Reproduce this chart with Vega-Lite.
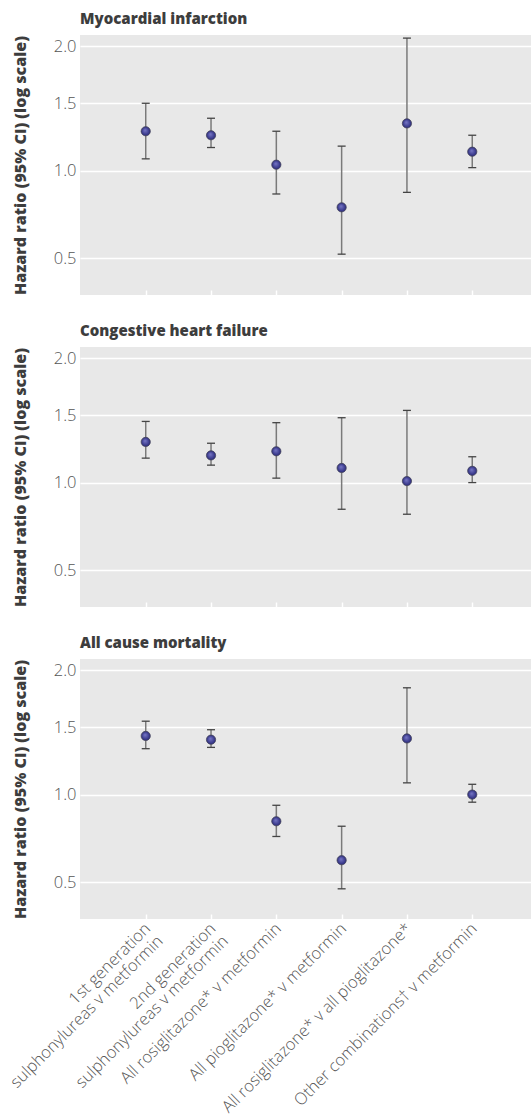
{
  "$schema": "https://vega.github.io/schema/vega-lite/v6.json",
  "padding": {"left": -6, "top": 12, "right": 0, "bottom": 0},
  "data": {
    "values": [
      {"outcome": "Myocardial infarction", "comparison": "1st generation|sulphonylureas v metformin", "hr": 1.28, "lo": 1.08, "hi": 1.50},
      {"outcome": "Myocardial infarction", "comparison": "2nd generation|sulphonylureas v metformin", "hr": 1.25, "lo": 1.16, "hi": 1.38},
      {"outcome": "Myocardial infarction", "comparison": "All rosiglitazone* v metformin", "hr": 1.04, "lo": 0.85, "hi": 1.28},
      {"outcome": "Myocardial infarction", "comparison": "All pioglitazone* v metformin", "hr": 0.77, "lo": 0.52, "hi": 1.17},
      {"outcome": "Myocardial infarction", "comparison": "All rosiglitazone* v all pioglitazone*", "hr": 1.34, "lo": 0.86, "hi": 2.08},
      {"outcome": "Myocardial infarction", "comparison": "Other combinations† v metformin", "hr": 1.13, "lo": 1.02, "hi": 1.25},
      {"outcome": "Congestive heart failure", "comparison": "1st generation|sulphonylureas v metformin", "hr": 1.29, "lo": 1.17, "hi": 1.45},
      {"outcome": "Congestive heart failure", "comparison": "2nd generation|sulphonylureas v metformin", "hr": 1.19, "lo": 1.12, "hi": 1.28},
      {"outcome": "Congestive heart failure", "comparison": "All rosiglitazone* v metformin", "hr": 1.22, "lo": 1.03, "hi": 1.44},
      {"outcome": "Congestive heart failure", "comparison": "All pioglitazone* v metformin", "hr": 1.10, "lo": 0.83, "hi": 1.48},
      {"outcome": "Congestive heart failure", "comparison": "All rosiglitazone* v all pioglitazone*", "hr": 1.01, "lo": 0.80, "hi": 1.54},
      {"outcome": "Congestive heart failure", "comparison": "Other combinations† v metformin", "hr": 1.08, "lo": 1.00, "hi": 1.18},
      {"outcome": "All cause mortality", "comparison": "1st generation|sulphonylureas v metformin", "hr": 1.43, "lo": 1.33, "hi": 1.55},
      {"outcome": "All cause mortality", "comparison": "2nd generation|sulphonylureas v metformin", "hr": 1.40, "lo": 1.34, "hi": 1.48},
      {"outcome": "All cause mortality", "comparison": "All rosiglitazone* v metformin", "hr": 0.83, "lo": 0.74, "hi": 0.93},
      {"outcome": "All cause mortality", "comparison": "All pioglitazone* v metformin", "hr": 0.61, "lo": 0.47, "hi": 0.80},
      {"outcome": "All cause mortality", "comparison": "All rosiglitazone* v all pioglitazone*", "hr": 1.41, "lo": 1.08, "hi": 1.84},
      {"outcome": "All cause mortality", "comparison": "Other combinations† v metformin", "hr": 1.00, "lo": 0.95, "hi": 1.07}
    ]
  },
  "spacing": 28,
  "vconcat": [
    {
      "title": "Myocardial infarction",
      "width": 451,
      "height": 260,
      "transform": [{"filter": "datum.outcome === 'Myocardial infarction'"}],
      "encoding": {
        "x": {
          "field": "comparison",
          "type": "nominal",
          "scale": {"type": "point", "domain": ["1st generation|sulphonylureas v metformin", "2nd generation|sulphonylureas v metformin", "All rosiglitazone* v metformin", "All pioglitazone* v metformin", "All rosiglitazone* v all pioglitazone*", "Other combinations† v metformin"], "padding": 0.953, "align": 0.528},
          "axis": {"labels": false}
        }
      },
      "layer": [
        {"mark": {"type": "rule", "color": "#7a7a7a", "strokeWidth": 1.5}, "encoding": {"y": {"field": "lo", "type": "quantitative", "title": "Hazard ratio (95% CI) (log scale)", "scale": {"type": "sqrt", "domain": [0.342, 2.11], "zero": false, "nice": false}, "axis": {"values": [0.5, 1, 1.5, 2]}}, "y2": {"field": "hi"}}},
        {"mark": {"type": "tick", "orient": "horizontal", "size": 8, "thickness": 1.3, "color": "#444444", "opacity": 1}, "encoding": {"y": {"field": "lo", "type": "quantitative", "title": "Hazard ratio (95% CI) (log scale)", "axis": {"values": [0.5, 1, 1.5, 2]}}}},
        {"mark": {"type": "tick", "orient": "horizontal", "size": 8, "thickness": 1.3, "color": "#444444", "opacity": 1}, "encoding": {"y": {"field": "hi", "type": "quantitative", "title": "Hazard ratio (95% CI) (log scale)", "axis": {"values": [0.5, 1, 1.5, 2]}}}},
        {"mark": {"type": "point", "filled": true, "size": 85, "opacity": 1, "stroke": "#44445a", "strokeWidth": 0.8, "fill": {"gradient": "radial", "x1": 0.42, "y1": 0.38, "r1": 0, "x2": 0.5, "y2": 0.5, "r2": 0.55, "stops": [{"offset": 0, "color": "#7878c8"}, {"offset": 1, "color": "#232375"}]}}, "encoding": {"y": {"field": "hr", "type": "quantitative", "title": "Hazard ratio (95% CI) (log scale)", "axis": {"values": [0.5, 1, 1.5, 2]}}}}
      ]
    },
    {
      "title": "Congestive heart failure",
      "width": 451,
      "height": 260,
      "transform": [{"filter": "datum.outcome === 'Congestive heart failure'"}],
      "encoding": {
        "x": {
          "field": "comparison",
          "type": "nominal",
          "scale": {"type": "point", "domain": ["1st generation|sulphonylureas v metformin", "2nd generation|sulphonylureas v metformin", "All rosiglitazone* v metformin", "All pioglitazone* v metformin", "All rosiglitazone* v all pioglitazone*", "Other combinations† v metformin"], "padding": 0.953, "align": 0.528},
          "axis": {"labels": false}
        }
      },
      "layer": [
        {"mark": {"type": "rule", "color": "#7a7a7a", "strokeWidth": 1.5}, "encoding": {"y": {"field": "lo", "type": "quantitative", "title": "Hazard ratio (95% CI) (log scale)", "scale": {"type": "sqrt", "domain": [0.342, 2.11], "zero": false, "nice": false}, "axis": {"values": [0.5, 1, 1.5, 2]}}, "y2": {"field": "hi"}}},
        {"mark": {"type": "tick", "orient": "horizontal", "size": 8, "thickness": 1.3, "color": "#444444", "opacity": 1}, "encoding": {"y": {"field": "lo", "type": "quantitative", "title": "Hazard ratio (95% CI) (log scale)", "axis": {"values": [0.5, 1, 1.5, 2]}}}},
        {"mark": {"type": "tick", "orient": "horizontal", "size": 8, "thickness": 1.3, "color": "#444444", "opacity": 1}, "encoding": {"y": {"field": "hi", "type": "quantitative", "title": "Hazard ratio (95% CI) (log scale)", "axis": {"values": [0.5, 1, 1.5, 2]}}}},
        {"mark": {"type": "point", "filled": true, "size": 85, "opacity": 1, "stroke": "#44445a", "strokeWidth": 0.8, "fill": {"gradient": "radial", "x1": 0.42, "y1": 0.38, "r1": 0, "x2": 0.5, "y2": 0.5, "r2": 0.55, "stops": [{"offset": 0, "color": "#7878c8"}, {"offset": 1, "color": "#232375"}]}}, "encoding": {"y": {"field": "hr", "type": "quantitative", "title": "Hazard ratio (95% CI) (log scale)", "axis": {"values": [0.5, 1, 1.5, 2]}}}}
      ]
    },
    {
      "title": "All cause mortality",
      "width": 451,
      "height": 260,
      "transform": [{"filter": "datum.outcome === 'All cause mortality'"}],
      "encoding": {
        "x": {
          "field": "comparison",
          "type": "nominal",
          "scale": {"type": "point", "domain": ["1st generation|sulphonylureas v metformin", "2nd generation|sulphonylureas v metformin", "All rosiglitazone* v metformin", "All pioglitazone* v metformin", "All rosiglitazone* v all pioglitazone*", "Other combinations† v metformin"], "padding": 0.953, "align": 0.528},
          "axis": {"labels": true, "labelExpr": "split(datum.label, '|')"}
        }
      },
      "layer": [
        {"mark": {"type": "rule", "color": "#7a7a7a", "strokeWidth": 1.5}, "encoding": {"y": {"field": "lo", "type": "quantitative", "title": "Hazard ratio (95% CI) (log scale)", "scale": {"type": "sqrt", "domain": [0.342, 2.11], "zero": false, "nice": false}, "axis": {"values": [0.5, 1, 1.5, 2]}}, "y2": {"field": "hi"}}},
        {"mark": {"type": "tick", "orient": "horizontal", "size": 8, "thickness": 1.3, "color": "#444444", "opacity": 1}, "encoding": {"y": {"field": "lo", "type": "quantitative", "title": "Hazard ratio (95% CI) (log scale)", "axis": {"values": [0.5, 1, 1.5, 2]}}}},
        {"mark": {"type": "tick", "orient": "horizontal", "size": 8, "thickness": 1.3, "color": "#444444", "opacity": 1}, "encoding": {"y": {"field": "hi", "type": "quantitative", "title": "Hazard ratio (95% CI) (log scale)", "axis": {"values": [0.5, 1, 1.5, 2]}}}},
        {"mark": {"type": "point", "filled": true, "size": 85, "opacity": 1, "stroke": "#44445a", "strokeWidth": 0.8, "fill": {"gradient": "radial", "x1": 0.42, "y1": 0.38, "r1": 0, "x2": 0.5, "y2": 0.5, "r2": 0.55, "stops": [{"offset": 0, "color": "#7878c8"}, {"offset": 1, "color": "#232375"}]}}, "encoding": {"y": {"field": "hr", "type": "quantitative", "title": "Hazard ratio (95% CI) (log scale)", "axis": {"values": [0.5, 1, 1.5, 2]}}}}
      ]
    }
  ],
  "config": {
    "font": "Open Sans",
    "view": {"fill": "#e8e8e8", "stroke": null},
    "title": {"font": "Open Sans", "fontSize": 15, "fontWeight": 800, "color": "#3d3d3d", "anchor": "start", "frame": "group", "offset": 8},
    "axisY": {
      "format": ".1f",
      "grid": true,
      "gridColor": "#ffffff",
      "gridWidth": 1.5,
      "domain": false,
      "ticks": false,
      "labelFont": "Open Sans",
      "labelFontSize": 16.5,
      "labelFontWeight": 300,
      "labelColor": "#555555",
      "labelPadding": 4,
      "titleFont": "Open Sans",
      "titleFontSize": 16,
      "titleFontWeight": 800,
      "titleColor": "#3d3d3d",
      "titlePadding": 25
    },
    "axisX": {
      "grid": false,
      "domain": false,
      "title": null,
      "tickColor": "#ffffff",
      "tickWidth": 1.5,
      "tickSize": -5,
      "labelAngle": -45,
      "labelFont": "Open Sans",
      "labelFontSize": 16.5,
      "labelLineHeight": 17.5,
      "labelFontWeight": 300,
      "labelColor": "#555555",
      "labelLimit": 0,
      "labelPadding": 6,
      "labelOffset": -4
    }
  }
}
